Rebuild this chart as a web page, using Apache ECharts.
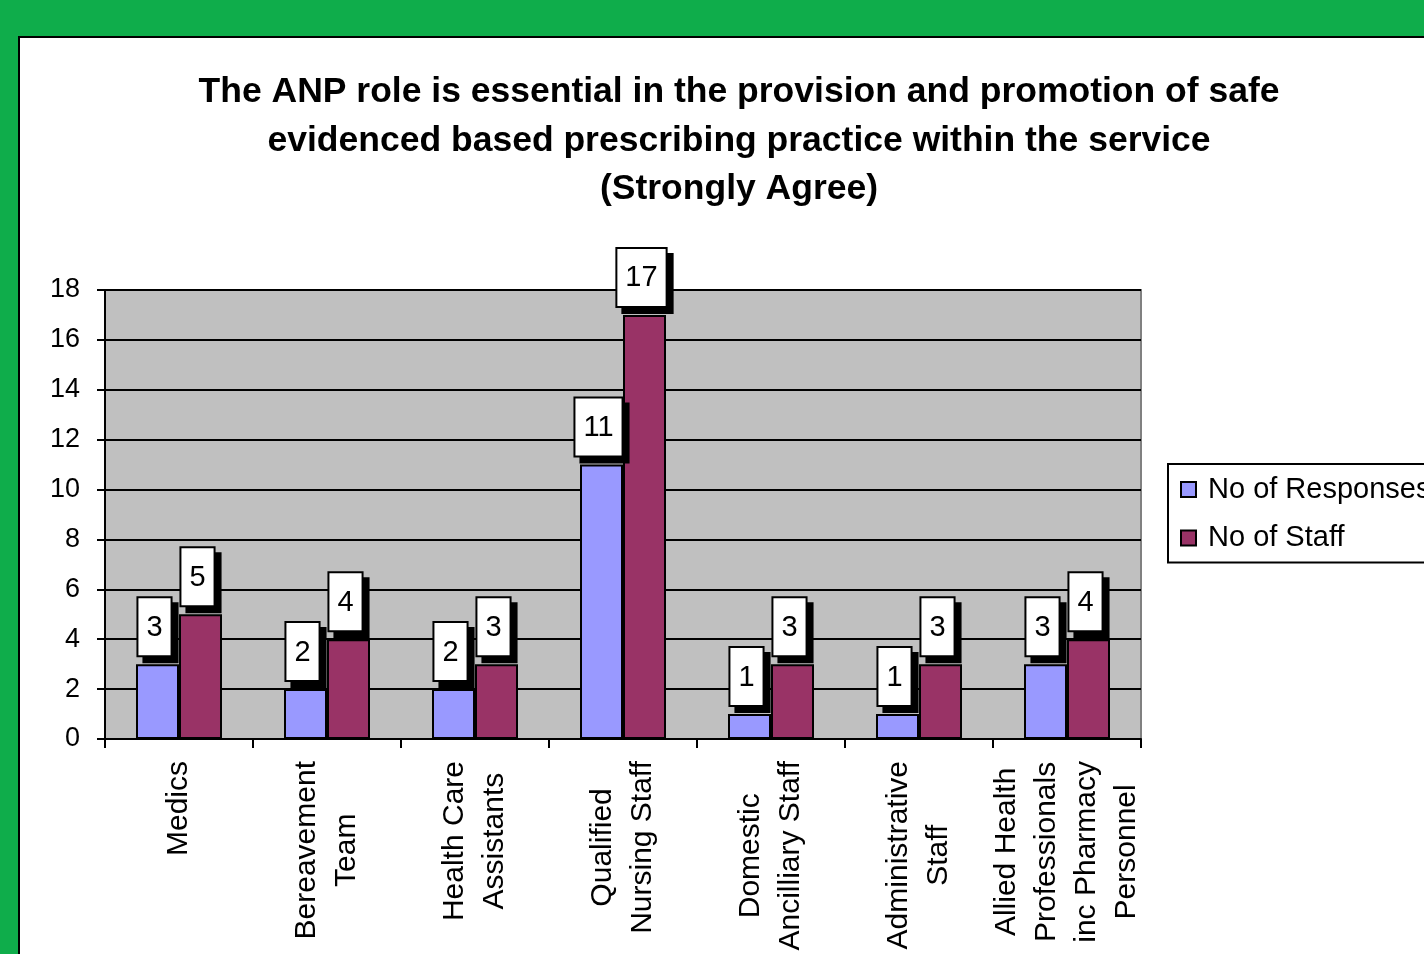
<!DOCTYPE html>
<html>
<head>
<meta charset="utf-8">
<script src="https://cdn.jsdelivr.net/npm/echarts@6/dist/echarts.min.js"></script>
<style>
  html, body { margin: 0; padding: 0; background: #0FAD4B; }
  #main { width: 1424px; height: 954px; }
</style>
</head>
<body>
<div id="main"></div>
<script>
// data
var categories = [
  'Medics',
  'Bereavement\nTeam',
  'Health Care\nAssistants',
  'Qualified\nNursing Staff',
  'Domestic\nAncilliary Staff',
  'Administrative\nStaff',
  'Allied Health\nProfessionals\ninc Pharmacy\nPersonnel'
];
var responses = [3, 2, 2, 11, 1, 1, 3];
var staff = [5, 4, 3, 17, 3, 3, 4];
var seriesNames = ['No of Responses', 'No of Staff'];
var titleText = 'The ANP role is essential in the provision and promotion of safe\nevidenced based prescribing practice within the service\n(Strongly Agree)';

var font = '"Liberation Sans", Arial, sans-serif';

var myChart = echarts.init(document.getElementById('main'));

// label box with hard black shadow
var boxLabel = {
  show: true,
  position: 'top',
  distance: 9,
  offset: [-3, 0],
  color: '#000',
  fontFamily: font,
  fontSize: 29,
  backgroundColor: '#fff',
  borderColor: '#000',
  borderWidth: 2,
  padding: [15, 8, 13, 8],
  shadowColor: '#000',
  shadowBlur: 0,
  shadowOffsetX: 6,
  shadowOffsetY: 6
};

option = {
  backgroundColor: '#0FAD4B',
  animation: false,
  graphic: [{
    type: 'rect',
    z: -10,
    shape: { x: 19, y: 37, width: 1500, height: 1000 },
    style: { fill: '#fff', stroke: '#000', lineWidth: 2 }
  }, {
    // chart title
    type: 'text',
    x: 739,
    y: 68,
    style: {
      text: titleText,
      align: 'center',
      verticalAlign: 'top',
      fill: '#000',
      fontFamily: font,
      fontWeight: 'bold',
      fontSize: 35.5,
      lineHeight: 48.5
    }
  }],
  legend: {
    orient: 'vertical',
    left: 1168,
    top: 464,
    padding: [11, 30, 10, 12],
    itemGap: 19.5,
    itemWidth: 15,
    itemHeight: 15,
    icon: 'rect',
    borderColor: '#000',
    borderWidth: 2,
    backgroundColor: '#fff',
    itemStyle: { borderColor: '#000', borderWidth: 2 },
    textStyle: {
      fontFamily: font,
      fontSize: 29,
      color: '#000',
      padding: [0, 0, 0, 7]
    },
    data: seriesNames
  },
  grid: {
    left: 105,
    top: 290,
    right: 283,
    bottom: 215,
    show: true,
    backgroundColor: '#C0C0C0',
    borderColor: '#808080',
    borderWidth: 2
  },
  xAxis: {
    type: 'category',
    data: categories,
    boundaryGap: true,
    axisLine: { lineStyle: { color: '#000', width: 2 } },
    axisTick: { show: true, interval: 0, length: 9, lineStyle: { color: '#000', width: 2 } },
    axisLabel: {
      interval: 0,
      rotate: 90,
      margin: 22,
      color: '#000',
      fontFamily: font,
      fontSize: 30,
      lineHeight: 40,
      formatter: function (v) {
        return v.split('\n').map(function (s) { return '{c|' + s + '}'; }).join('\n');
      },
      rich: {
        c: { align: 'center', fontFamily: font, fontSize: 30, lineHeight: 40, color: '#000' }
      }
    }
  },
  yAxis: {
    type: 'value',
    min: 0,
    max: 18,
    interval: 2,
    axisLine: { show: true, lineStyle: { color: '#000', width: 2 } },
    axisTick: { show: true, length: 8, lineStyle: { color: '#000', width: 2 } },
    axisLabel: { margin: 25, color: '#000', fontFamily: font, fontSize: 27 },
    splitLine: { lineStyle: { color: '#000', width: 2 } }
  },
  series: [{
    name: seriesNames[0],
    type: 'bar',
    data: responses,
    barWidth: 43,
    barGap: '0%',
    itemStyle: { color: '#9999FF', borderColor: '#000', borderWidth: 2 },
    label: boxLabel
  }, {
    name: seriesNames[1],
    type: 'bar',
    data: staff,
    barWidth: 43,
    barGap: '0%',
    itemStyle: { color: '#993366', borderColor: '#000', borderWidth: 2 },
    label: boxLabel
  }]
};

myChart.setOption(option);
</script>
</body>
</html>
